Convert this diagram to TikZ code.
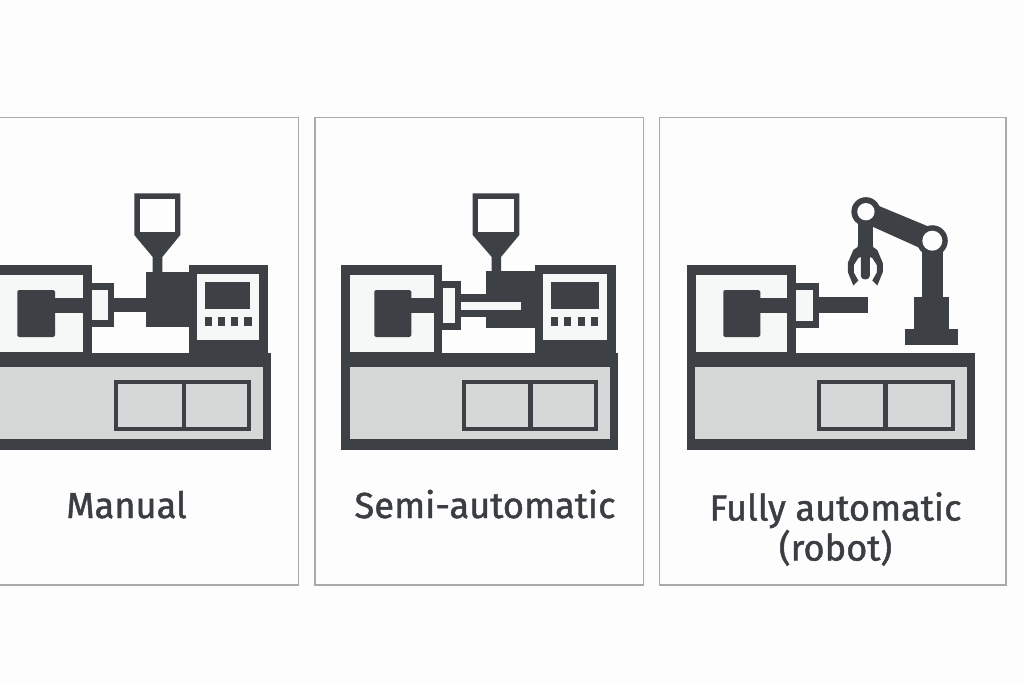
\documentclass[tikz,border=0pt]{standalone}
\usepackage{fontspec}
\setmainfont{Fira Sans}
\newfontfamily\labelfont[FakeBold=1.2]{Fira Sans}
\definecolor{ink}{HTML}{3D4145}
\definecolor{steel}{HTML}{D6D8D8}
\definecolor{pale}{HTML}{F6F7F7}
\definecolor{edge}{HTML}{A9ABAB}
\definecolor{paper}{HTML}{FDFDFD}
\definecolor{caption}{HTML}{3A3D42}
\tikzset{
  x=0.75pt, y=-0.75pt,
  dark/.style={fill=ink, draw=none},
  metal/.style={fill=steel, draw=none},
  light/.style={fill=pale, draw=none},
  blank/.style={fill=paper, draw=none},
  panel/.style={draw=edge, line width=1.4pt, fill=paper},
  caption/.style={font=\labelfont\fontsize{27.2pt}{30pt}\selectfont, text=caption, align=center, inner sep=0pt}
}
% corner-to-corner filled rectangle: style, x1, y1, x2, y2
\newcommand{\blk}[5]{\path[#1] (#2,#3) rectangle (#4,#5);}
% machine bed with its two-door cabinet
\newcommand{\machinebed}[9]{%
  \blk{dark}{#1}{353}{#4}{450}
  \blk{metal}{#2}{367}{#3}{439}
  \blk{dark}{#5}{380}{#9}{431}
  \blk{metal}{#6}{384}{#7}{427}
  \blk{metal}{#8}{384}{\doortwoend}{427}
}
% clamp unit: outer x1, inner x1, inner x2, outer x2, block x1, block x2
\newcommand{\clampunit}[6]{%
  \blk{dark}{#1}{265}{#4}{353}
  \blk{light}{#2}{275}{#3}{352}
  \path[dark, rounded corners=1.2pt] (#5,290) rectangle (#6,337);
  \blk{dark}{#6-1}{297.5}{#3+1}{312.5}
}
% hopper: outer x1, inner x1, inner x2, outer x2, neck x1, neck x2, neck bottom
\newcommand{\hopper}[7]{%
  \path[dark] (#1,193.3) -- (#4,193.3) -- (#4,235) -- (#6,257) -- (#6,#7) -- (#5,#7) -- (#5,257) -- (#1,235) -- cycle;
  \blk{blank}{#2}{199}{#3}{231.5}
}
% control cabinet with screen and four buttons
\newcommand{\controlbox}[7]{%
  \blk{dark}{#1}{265}{#2}{353}
  \blk{light}{#3}{274}{#4}{339.5}
  \blk{dark}{#5}{282}{#6}{309}
  \foreach \k in {0,1,2,3} {
    \blk{dark}{#5+\k*#7}{316.5}{#5+\k*#7+7.3}{326}
  }
}
\begin{document}
\begin{tikzpicture}
\useasboundingbox (0,0) rectangle (1024,683);
\fill[paper] (0,0) rectangle (1024,683);

% panels
\path[panel] (-6,117.5) rectangle (298.5,585);
\path[panel] (315,117.5) rectangle (643.5,585);
\path[panel] (659.5,117.5) rectangle (1006,585);

% --- left machine ---
\def\doortwoend{246.7}
\machinebed{-4}{-4}{263}{271}{114}{118}{181.7}{186}{250.7}
\clampunit{-4}{-4}{82.7}{91.7}{17.3}{55}
\blk{dark}{91}{282.7}{114.3}{327.3}
\blk{light}{91.7}{290}{108.3}{320}
\blk{dark}{114}{297.7}{147}{311.7}
\blk{dark}{145.7}{271.7}{190}{326.7}
\hopper{134.3}{140}{175}{180.3}{152.7}{162.3}{272.5}
\controlbox{189}{268.3}{196.7}{258.7}{204.7}{250.3}{13.2}

% --- middle machine ---
\def\doortwoend{593.7}
\machinebed{341}{350}{610}{618.3}{461.7}{466}{528.3}{532.7}{598}
\clampunit{341}{350.3}{433.7}{442.3}{374.3}{411.3}
\blk{dark}{441.5}{280.7}{461}{330}
\blk{light}{442.7}{287.7}{455}{322.7}
\blk{dark}{460}{294}{487}{316.7}
\blk{dark}{486}{270.7}{536}{327.7}
\blk{light}{461}{302}{520.7}{310}
\hopper{472.7}{478.3}{514}{519.3}{491.7}{501}{271.5}
\controlbox{535}{616}{543.3}{606.7}{550.7}{598.7}{13.4}

% --- right machine ---
\def\doortwoend{951}
\machinebed{686.7}{695}{967}{975.3}{816.7}{821}{883.3}{887.7}{955}
\clampunit{686.7}{696}{787}{796.3}{723.3}{760.3}
\blk{dark}{795.5}{282.7}{819}{327.7}
\blk{light}{796.3}{290}{813.3}{320.7}
\blk{dark}{818}{296.7}{868.3}{313.3}

% robot arm
\blk{dark}{905}{329.3}{958.3}{345}
\blk{dark}{914.3}{297.3}{949.3}{330}
\blk{dark}{921.7}{240}{943.3}{298}
\path[dark] (866,200.6) -- (932,228) -- (932,253.4) -- (866,223.7) -- cycle;
\blk{dark}{857.6}{212}{872.9}{250}
\path[dark] (865.3-7.7,245) -- (865.3-7.7,247) -- (865.3-12,250) -- (865.3-17.5,263) -- (865.3-17.5,272)
  -- (865.3-12,285.5) -- (865.3-7,280.5) -- (865.3-11.5,272.5) -- (865.3-11.5,265) -- (865.3-7,258)
  -- (865.3-4.5,257) -- (865.3-4.5,276) arc[start angle=180, end angle=360, x radius=4.5, y radius=-3.5]
  -- (865.3+4.5,257) -- (865.3+7,258) -- (865.3+11.5,265) -- (865.3+11.5,272.5) -- (865.3+7,280.5)
  -- (865.3+12,285.5) -- (865.3+17.5,272) -- (865.3+17.5,263) -- (865.3+12,250) -- (865.3+7.7,247)
  -- (865.3+7.7,245) -- cycle;
\fill[ink] (865.9,211.7) circle[radius=10.9pt];
\fill[paper] (865.9,211.7) circle[radius=6.5pt];
\fill[ink] (932.3,240.7) circle[radius=11.6pt];
\fill[paper] (932.3,240.7) circle[radius=7.5pt];

% captions
\node[caption, anchor=base] (manual) at (126.5,518) {Manual};
\node[caption, anchor=base] (semi) at (485,518) {Semi-automatic};
\node[caption] (fully) at (835.5,529) {Fully automatic\\(robot)};
\end{tikzpicture}
\end{document}
